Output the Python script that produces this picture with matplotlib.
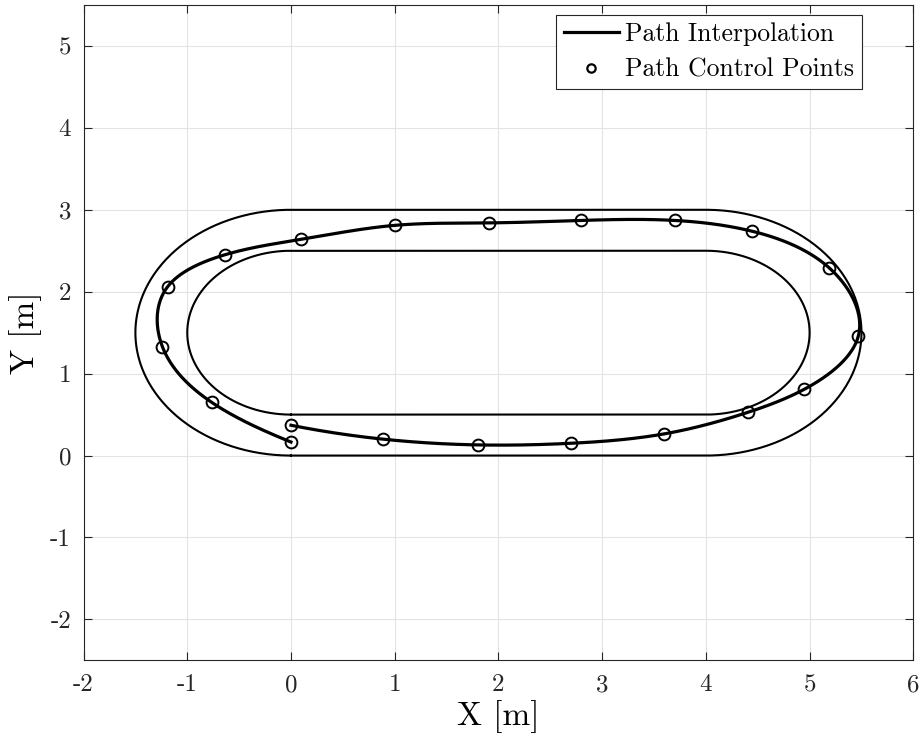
import numpy as np
import matplotlib
matplotlib.use("Agg")
import matplotlib.pyplot as plt
from matplotlib.lines import Line2D

plt.rcParams['font.family'] = ['cmr10', 'DejaVu Serif']
plt.rcParams['axes.unicode_minus'] = False
plt.rcParams['axes.formatter.use_mathtext'] = False

# control points of the path (in driving order)
ctrl_x = [0.00, 0.89, 1.80, 2.70, 3.60, 4.41, 4.95, 5.47, 5.19, 4.44,
          3.70, 2.80, 1.91, 1.00, 0.10, -0.64, -1.19, -1.24, -0.765, 0.00]
ctrl_y = [0.37, 0.20, 0.13, 0.15, 0.265, 0.53, 0.81, 1.46, 2.29, 2.74,
          2.87, 2.87, 2.84, 2.81, 2.64, 2.45, 2.06, 1.33, 0.65, 0.165]

# track geometry: two straights from x=0 to x=4, semicircles at both ends
straight_start = 0.0
straight_end = 4.0
track_center_y = 1.5
outer_radius = 1.5
inner_radius = 1.0

x_ticks = [-2, -1, 0, 1, 2, 3, 4, 5, 6]
y_ticks = [-2, -1, 0, 1, 2, 3, 4, 5]


def stadium(r):
    th1 = np.linspace(-np.pi / 2, np.pi / 2, 200)
    th2 = np.linspace(np.pi / 2, 3 * np.pi / 2, 200)
    xs = np.concatenate([[straight_start], straight_end + r * np.cos(th1),
                         straight_start + r * np.cos(th2)])
    ys = np.concatenate([[track_center_y - r], track_center_y + r * np.sin(th1),
                         track_center_y + r * np.sin(th2)])
    return xs, ys


def spline_notaknot(t, y, tq):
    # cubic spline with not-a-knot end conditions
    t = np.asarray(t, float)
    y = np.asarray(y, float)
    n = len(t)
    h = np.diff(t)
    d = np.diff(y) / h
    A = np.zeros((n, n))
    b = np.zeros(n)
    for i in range(1, n - 1):
        A[i, i - 1] = h[i - 1]
        A[i, i] = 2 * (h[i - 1] + h[i])
        A[i, i + 1] = h[i]
        b[i] = 6 * (d[i] - d[i - 1])
    A[0, 0], A[0, 1], A[0, 2] = h[1], -(h[0] + h[1]), h[0]
    A[-1, -3], A[-1, -2], A[-1, -1] = h[-1], -(h[-2] + h[-1]), h[-2]
    M = np.linalg.solve(A, b)
    k = np.clip(np.searchsorted(t, tq) - 1, 0, n - 2)
    a = t[k + 1] - tq
    c = tq - t[k]
    hk = h[k]
    return (M[k] * a ** 3 / (6 * hk) + M[k + 1] * c ** 3 / (6 * hk)
            + (y[k] / hk - M[k] * hk / 6) * a + (y[k + 1] / hk - M[k + 1] * hk / 6) * c)


px = np.array(ctrl_x)
py = np.array(ctrl_y)
s = np.concatenate([[0], np.cumsum(np.hypot(np.diff(px), np.diff(py)))])
sq = np.linspace(0, s[-1], 1500)
path_x = spline_notaknot(s, px, sq)
path_y = spline_notaknot(s, py, sq)

fig = plt.figure(figsize=(9.22, 7.42), dpi=100)
ax = fig.add_axes([0.0906, 0.110, 0.9, 0.8833])

for r in (outer_radius, inner_radius):
    tx, ty = stadium(r)
    ax.plot(tx, ty, color='black', lw=1.5, zorder=2)

ax.plot(path_x, path_y, color='black', lw=2.3, zorder=3)
ax.plot(ctrl_x, ctrl_y, linestyle='none', marker='o', markersize=8.5,
        markerfacecolor='none', markeredgecolor='black', markeredgewidth=1.4, zorder=4)

ax.set_xlim(-2, 6)
ax.set_ylim(-2.5, 5.5)
ax.set_xticks(x_ticks)
ax.set_yticks(y_ticks)
ax.set_xticklabels([str(v) for v in x_ticks])
ax.set_yticklabels([str(v) for v in y_ticks])
ax.grid(True, color='#e3e3e3', lw=0.8)
ax.set_axisbelow(True)
ax.tick_params(direction='in', length=6, width=0.8, top=True, right=True,
               labelsize=18, colors='#262626')
ax.tick_params(axis='x', pad=10)
ax.tick_params(axis='y', pad=9)
for sp in ax.spines.values():
    sp.set_color('#262626')
    sp.set_linewidth(0.8)

ax.set_xlabel('X [m]', fontsize=24, labelpad=3)
ax.set_ylabel('Y [m]', fontsize=24, labelpad=6)

handles = [Line2D([], [], color='black', lw=2.3),
           Line2D([], [], linestyle='none', marker='o', markersize=6,
                  markerfacecolor='none', markeredgecolor='black', markeredgewidth=1.6)]
leg = ax.legend(handles, ['Path Interpolation', 'Path Control Points'],
                loc='upper right', bbox_to_anchor=(0.938, 0.985), borderaxespad=0,
                fontsize=18.5, fancybox=False, framealpha=1, edgecolor='#262626',
                handlelength=2.15, handletextpad=0.25, borderpad=0.3, labelspacing=0.45)
leg.get_frame().set_linewidth(0.8)

fig.savefig('out.png', dpi=100)
